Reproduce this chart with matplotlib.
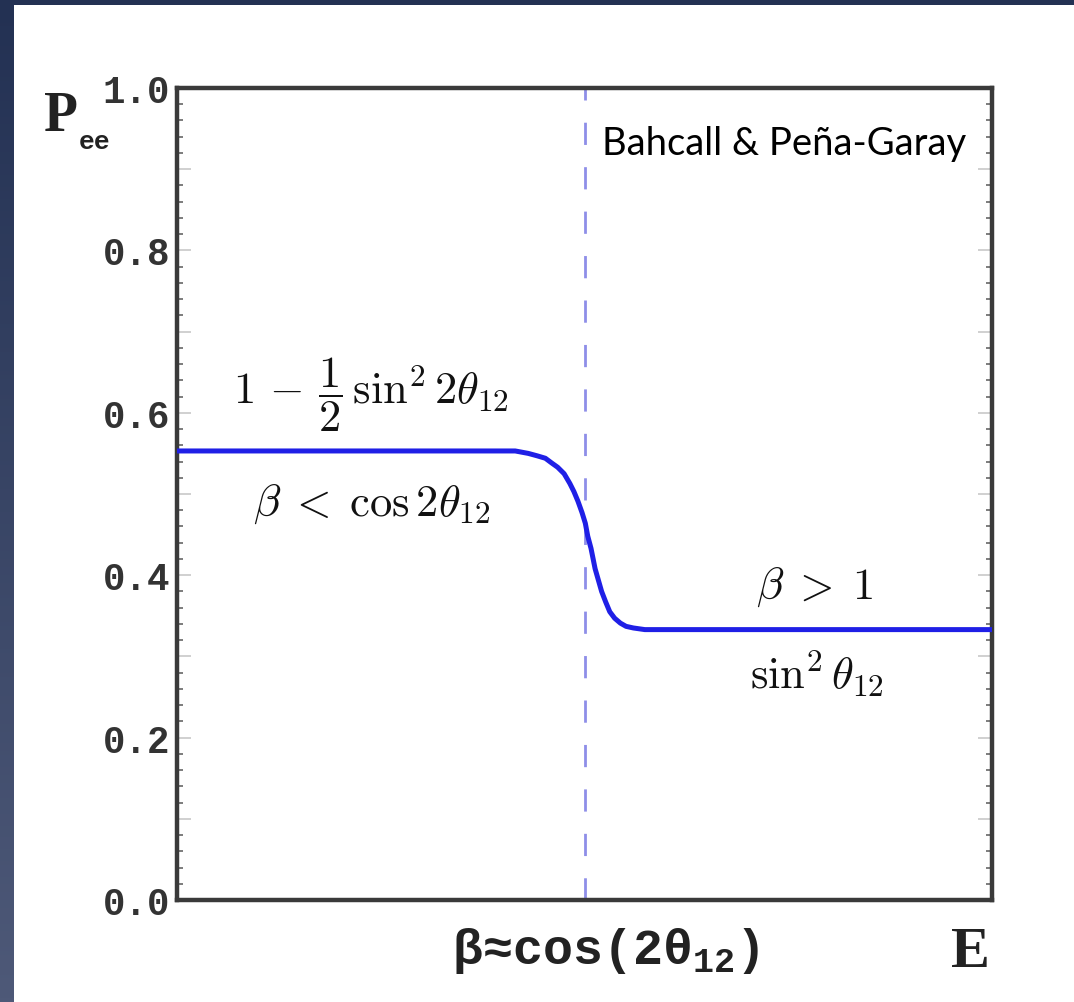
import matplotlib
matplotlib.use("Agg")
import matplotlib.pyplot as plt
import numpy as np
from matplotlib.ticker import MultipleLocator
from matplotlib.colors import LinearSegmentedColormap

# curve (E in axis units 0..1, P_ee)
energy = [0.0, 0.200, 0.396, 0.415, 0.431, 0.442, 0.452, 0.460, 0.467,
          0.475, 0.482, 0.487, 0.492, 0.497, 0.501, 0.504, 0.508, 0.513,
          0.517, 0.521, 0.526, 0.531, 0.537, 0.544, 0.551, 0.560, 0.574,
          0.593, 0.800, 1.0]
p_ee = [0.553, 0.553, 0.553, 0.553, 0.550, 0.547, 0.544, 0.538, 0.533,
        0.525, 0.513, 0.503, 0.491, 0.477, 0.464, 0.448, 0.433, 0.408,
        0.394, 0.380, 0.367, 0.355, 0.347, 0.341, 0.337, 0.335, 0.333,
        0.333, 0.333, 0.333]
e_crit = 0.5   # beta ~ cos(2 theta12)

y_ticks = [0.0, 0.1, 0.2, 0.3, 0.4, 0.5, 0.6, 0.7, 0.8, 0.9, 1.0]
y_labels = ['0.0', '', '0.2', '', '0.4', '', '0.6', '', '0.8', '', '1.0']

plt.rcParams['mathtext.fontset'] = 'custom'
plt.rcParams['mathtext.rm'] = 'Liberation Mono:bold'
plt.rcParams['mathtext.it'] = 'Liberation Mono:bold'
plt.rcParams['mathtext.bf'] = 'Liberation Mono:bold'

W, H = 1074, 1003
fig = plt.figure(figsize=(W / 100, H / 100), dpi=100, facecolor='white')

# dark slide border on the left and top
strip = fig.add_axes([0, 0, 14 / W, 1])
grad = np.linspace(0, 1, 256).reshape(-1, 1)
cmap = LinearSegmentedColormap.from_list('slide', ['#233153', '#4e5978'])
strip.imshow(grad, aspect='auto', cmap=cmap, extent=[0, 1, 0, 1], origin='upper')
strip.axis('off')
top = fig.add_axes([0, 1 - 6 / H, 1, 6 / H])
top.axis('off')
top.add_patch(plt.Rectangle((0, 0), 1, 1, color='#233153', transform=top.transAxes))

ax = fig.add_axes([177 / W, 1 - 901 / H, 815 / W, 812 / H])
ax.set_xlim(0, 1)
ax.set_ylim(0, 1)

ax.plot(energy, p_ee, color='#1f1fe6', lw=3.6, solid_capstyle='butt',
        solid_joinstyle='round', zorder=3)
ax.axvline(e_crit, color='#8e8ee8', lw=2.0, dashes=(8, 8), zorder=2)

for s in ax.spines.values():
    s.set_linewidth(3.2)
    s.set_color('#3a3a3a')

ax.set_xticks([])
ax.set_yticks(y_ticks)
ax.set_yticklabels(y_labels, fontfamily='Liberation Mono', fontweight='bold',
                   fontsize=27, color='#333333')
ax.yaxis.set_minor_locator(MultipleLocator(0.02))
ax.tick_params(axis='y', which='major', direction='in', length=10, width=1.2,
               color='#c8c8c8', left=True, right=True, pad=5)
ax.tick_params(axis='y', which='minor', direction='in', length=4, width=1.2,
               color='#666666', left=True, right=True)

mono = dict(fontfamily='Liberation Mono', fontweight='bold', color='#222222')
serif = dict(fontfamily='Liberation Serif', fontweight='bold', color='#222222')
ax.text(-0.163, 0.965, 'P', fontsize=40, ha='left', va='center',
        transform=ax.transAxes, **serif)
ax.text(-0.12, 0.935, 'ee', fontsize=19, ha='left', va='center',
        transform=ax.transAxes, **mono)

ax.text(0.526, -0.0775, r'β≈cos(2θ$_{12}$)', fontsize=36, ha='center',
        va='baseline', transform=ax.transAxes, **mono)
ax.text(0.973, -0.081, 'E', fontsize=42, ha='center', va='baseline',
        transform=ax.transAxes, **serif)

ax.text(0.969, 0.919, 'Bahcall & Peña-Garay', fontfamily='Lato', fontsize=27.5,
        ha='right', va='baseline', transform=ax.transAxes, color='black')

cm = dict(math_fontfamily='cm', fontsize=32, color='#111111', ha='center',
          va='center', transform=ax.transAxes)
ax.text(0.238, 0.624, r'$1\,-\,\dfrac{1}{2}\,\sin^2 2\theta_{12}$', **cm)
ax.text(0.239, 0.488, r'$\beta\;<\;\cos 2\theta_{12}$', **cm)
ax.text(0.783, 0.386, r'$\beta\;>\;1$', **cm)
ax.text(0.785, 0.280, r'$\sin^2 \theta_{12}$', **cm)

fig.savefig('out.png', dpi=100, facecolor='white')
